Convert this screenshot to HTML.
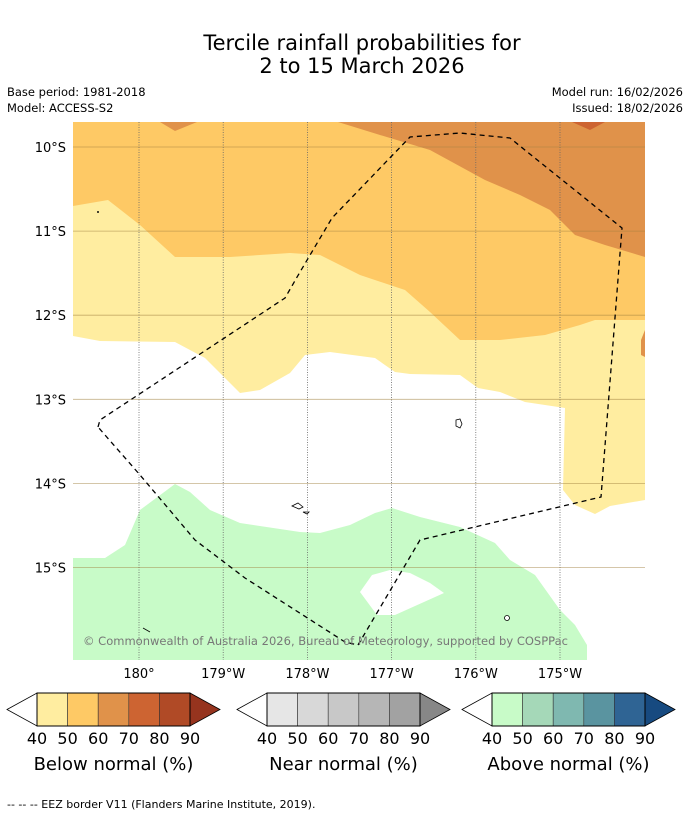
<!DOCTYPE html>
<html><head><meta charset="utf-8"><style>
body{margin:0;background:#fff;font-family:"DejaVu Sans","Liberation Sans",sans-serif;}
svg{display:block}
</style></head><body>
<svg id="c" width="690" height="816" xmlns="http://www.w3.org/2000/svg">
<text x="362" y="50" font-size="21" text-anchor="middle">Tercile rainfall probabilities for</text>
<text x="362" y="73" font-size="21" text-anchor="middle">2 to 15 March 2026</text>
<text x="7" y="96" font-size="11.5">Base period: 1981-2018</text>
<text x="7" y="112" font-size="11.5">Model: ACCESS-S2</text>
<text x="683" y="96" font-size="11.5" text-anchor="end">Model run: 16/02/2026</text>
<text x="683" y="112" font-size="11.5" text-anchor="end">Issued: 18/02/2026</text>
<defs><clipPath id="mc"><rect x="73" y="122" width="572" height="538"/></clipPath></defs>
<g clip-path="url(#mc)">
<rect x="73" y="122" width="572" height="538" fill="#fff"/>
<polygon fill="#ffeda0" points="73,122 645,122 645,500 610,506 595,514 575,505 563,490 565,408 525,402 500,392 478,388 460,375 410,374 395,372 375,358 330,352 305,355 290,373 260,390 240,393 205,358 175,342 100,341 73,336"/>
<polygon fill="#fec965" points="73,122 645,122 645,320 595,320 580,325 545,335 500,340 460,340 430,312 405,290 360,275 320,255 290,253 230,257 175,257 140,225 108,200 73,206"/>
<polygon fill="#e0924a" points="338,122 380,135 430,150 485,180 520,195 550,210 575,235 605,245 645,257 645,122"/>
<polygon fill="#e0924a" points="160,122 175,131 197,122"/>
<polygon fill="#e0924a" points="645,330 641,340 641,355 645,357"/>
<polygon fill="#cd6432" points="572,122 590,130 605,122"/>
<path fill="#c8fbc8" fill-rule="evenodd" d="M73,558 L105,558 125,545 140,510 175,484 190,492 210,510 240,523 300,532 320,533 350,525 375,513 392,508 420,517 460,527 495,543 510,560 535,575 560,610 575,625 587,645 587,660 73,660 Z M360,592 L377,615 395,615 444,593 430,583 410,573 390,570 372,575 Z"/>
<g id="grid"></g>
<polyline fill="none" stroke="#000" stroke-width="1.3" stroke-dasharray="5,4" points="98,427 100,420 285,298 300,272 332,218 410,137 460,133 510,138 622,228 601,497 420,540 358,645 345,642 245,578 195,540 140,475 98,427"/>
<g fill="#fff" stroke="#000" stroke-width="0.8">
<path d="M456,420 l4,-1 l2,5 l-2,4 l-4,-2 z"/>
<path d="M292,506 l6,-3 l5,4 l-4,2 z"/><path d="M303,512 l6,0 l-2,2 z"/>
<circle cx="507" cy="618" r="2.5"/>
<line x1="143" y1="628" x2="150" y2="632"/>
<circle cx="98" cy="212" r="0.6"/>
</g>
<text x="83" y="645" font-size="11.5" fill="#777" textLength="485">© Commonwealth of Australia 2026, Bureau of Meteorology, supported by COSPPac</text>
</g>
<g id="axes"></g>
<g id="bars"></g>
<text x="7" y="808" font-size="11">--  --  -- EEZ border V11 (Flanders Marine Institute, 2019).</text>
</svg>
<script>
const lonTicks=[180,-179,-178,-177,-176,-175];
const lonLabels=["180°","179°W","178°W","177°W","176°W","175°W"];
const latTicks=[-10,-11,-12,-13,-14,-15];
const latLabels=["10°S","11°S","12°S","13°S","14°S","15°S"];
const levels=[40,50,60,70,80,90];
const belowColors=["#ffeda0","#fec965","#e0924a","#cd6432","#b04a26"];
const belowExt="#96341e";
const nearColors=["#e6e6e6","#d8d8d8","#c8c8c8","#b6b6b6","#a2a2a2"];
const nearExt="#878787";
const aboveColors=["#c8fbc8","#a5d8b8","#7fb8b0","#5a94a0","#2f6494"];
const aboveExt="#174a80";
const ns="http://www.w3.org/2000/svg";
function xLon(l){const d=l>0?l-180:l+180;return 139+d*84.2;}
function yLat(l){return 147+(-l-10)*84.1;}
function mk(t,a,p){const e=document.createElementNS(ns,t);for(const k in a)e.setAttribute(k,a[k]);p.appendChild(e);return e;}
const grid=document.getElementById('grid'),axes=document.getElementById('axes');
lonTicks.forEach((l,i)=>{const x=xLon(l);
const g=mk('line',{x1:x,x2:x,y1:122,y2:660,stroke:'#666','stroke-width':0.8,'stroke-dasharray':'1,1.5'},grid);


const t=mk('text',{x:x,y:678,'font-size':13,'text-anchor':'middle'},axes);t.textContent=lonLabels[i];

});
latTicks.forEach((l,i)=>{const y=yLat(l);
const g=mk('line',{x1:73,x2:645,y1:y,y2:y,stroke:'#a08040','stroke-opacity':0.6,'stroke-width':0.8},grid);


const t=mk('text',{x:66,y:y+5,'font-size':13,'text-anchor':'end'},axes);t.textContent=latLabels[i];

});
const bars=document.getElementById('bars');
function bar(x0,cols,ext,title,name){
const w=30.6,top=693,h=33,mid=top+h/2,x1=x0+30,xe=x1+cols.length*w;
const g=mk('g',{},bars);
mk('polygon',{points:`${x0},${mid} ${x1},${top} ${x1},${top+h}`,fill:'#fff',stroke:'#000','stroke-width':0.8},g);
cols.forEach((c,i)=>{const r=mk('rect',{x:x1+i*w,y:top,width:w,height:h,fill:c,stroke:'#333','stroke-width':0.6},g);

});
mk('polygon',{points:`${xe},${top} ${xe+30},${mid} ${xe},${top+h}`,fill:ext,stroke:'#000','stroke-width':0.8},g);
mk('rect',{x:x1,y:top,width:xe-x1,height:h,fill:'none',stroke:'#000','stroke-width':1},g);
levels.forEach((v,i)=>{const t=mk('text',{x:x1+i*w,y:744,'font-size':16,'text-anchor':'middle'},g);t.textContent=v;

});
const tt=mk('text',{x:x1+cols.length*w/2,y:770,'font-size':18,'text-anchor':'middle'},g);tt.textContent=title;

}
bar(7,belowColors,belowExt,"Below normal (%)","below-normal-colorbar");
bar(237,nearColors,nearExt,"Near normal (%)","near-normal-colorbar");
bar(462,aboveColors,aboveExt,"Above normal (%)","above-normal-colorbar");
</script>
</body></html>
